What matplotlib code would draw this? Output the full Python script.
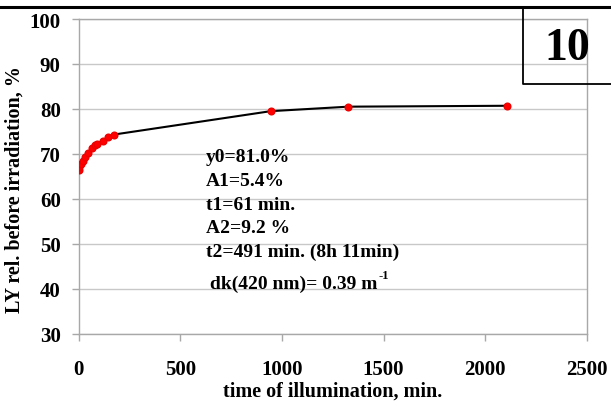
import matplotlib
matplotlib.use("Agg")
import matplotlib.pyplot as plt
from matplotlib.lines import Line2D

# Data
time_min = [0, 3, 10, 20, 31, 47, 64, 80, 92, 118, 146, 174, 945, 1327, 2106]
ly_rel = [66.5, 67.1, 67.7, 68.5, 69.2, 70.2, 71.2, 72.0, 72.2, 72.9, 73.7, 74.3, 79.5, 80.5, 80.7]
x_ticks = [0, 500, 1000, 1500, 2000, 2500]
y_ticks = [30, 40, 50, 60, 70, 80, 90, 100]
fit_lines = ["y0=81.0%", "A1=5.4%", "t1=61 min.", "A2=9.2 %", "t2=491 min. (8h 11min)"]
dk_text = "dk(420 nm)= 0.39 m"
dk_sup = "-1"
panel_label = "10"

W, H = 611, 402
fig = plt.figure(figsize=(W/100, H/100), dpi=100)
plt.rcParams['font.family'] = ['Liberation Serif', 'DejaVu Serif']

L, R, T, B = 78.7, 586.7, 20, 334.7
ax = fig.add_axes([L/W, 1 - B/H, (R-L)/W, (B-T)/H])
ax.plot(time_min, ly_rel, color='black', lw=1.5, zorder=2)
ax.plot(time_min, ly_rel, 'o', color='#ff0000', ms=4.8, mec='#ee0000', zorder=3)
ax.set_xlim(0, 2500)
ax.set_ylim(30, 100)
ax.set_xticks(x_ticks)
ax.set_yticks(y_ticks)
ax.set_xticklabels([str(v) for v in x_ticks], fontsize=15, fontweight='bold')
ax.set_yticklabels([str(v) for v in y_ticks], fontsize=15, fontweight='bold')
ax.grid(axis='y', color='#c8c8c8', lw=1)
ax.set_axisbelow(True)
for s in ax.spines.values():
    s.set_color('#a8a8a8')
    s.set_linewidth(1)
ax.tick_params(axis='both', color='#a8a8a8', length=5, width=1)
ax.tick_params(axis='y', pad=8)
ax.tick_params(axis='x', pad=13)
ax.set_xlabel("time of illumination, min.", fontsize=14.5, fontweight='bold')
ax.set_ylabel("LY rel. before irradiation, %", fontsize=14.5, fontweight='bold')
ax.xaxis.set_label_coords(0.5, -(392 - B) / (B - T), transform=ax.transAxes)
ax.xaxis.label.set_va('center')
ax.yaxis.set_label_coords(-(L - 15) / (R - L), (B - 190) / (B - T))
ax.yaxis.label.set_va('center')

ys = [158, 182, 206, 229, 252]
for t, y in zip(fit_lines, ys):
    fig.text(206/W, 1 - y/H, t, fontsize=14, fontweight='bold', va='center', ha='left')
dk = fig.text(210/W, 1 - 284/H, dk_text, fontsize=14, fontweight='bold', va='center', ha='left')
ax.annotate(dk_sup, xy=(1.0, 0.62), xycoords=dk, xytext=(1, 0), textcoords='offset points',
            fontsize=9, fontweight='bold', ha='left', va='bottom')

# top thick line and panel box
fig.add_artist(Line2D([0, 1], [1 - 7.5/H, 1 - 7.5/H], color='black', lw=2.2, transform=fig.transFigure))
fig.add_artist(Line2D([522.7/W, 522.7/W, 1.0], [1 - 7.5/H, 1 - 85/H, 1 - 85/H], color='black', lw=1.3, transform=fig.transFigure))
fig.text(567/W, 1 - 49/H, panel_label, fontsize=33, fontweight='bold', ha='center', va='center')

fig.savefig("out.png", dpi=100)
